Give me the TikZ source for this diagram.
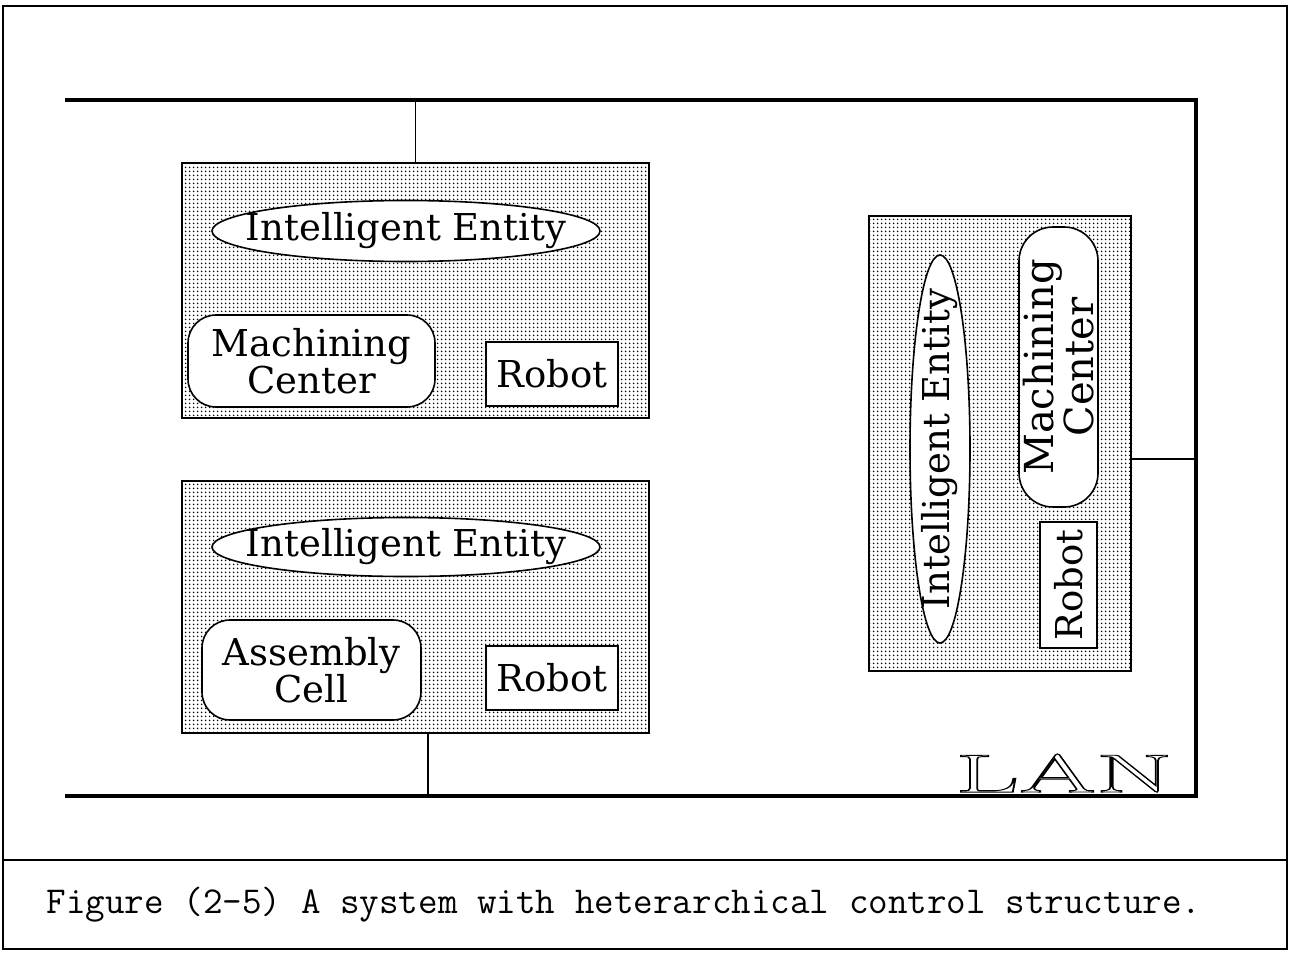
\documentclass[tikz,border=0pt]{standalone}
\usepackage{fontspec}
\usepackage{tikz}
\usetikzlibrary{shapes,patterns.meta}
\newfontfamily\labelserif{DejaVu Serif}
\tikzdeclarepattern{name=celldots,type=uncolored,
  bounding box={(0pt,0pt) and (4pt,4pt)},tile size={(4pt,4pt)},
  code={\fill (2pt,2pt) circle (1pt);}}
\newcommand{\labelfont}{\labelserif\fontsize{37}{33}\selectfont}
\newcommand{\hollow}[1]{\special{pdf:literal direct 1 Tr 0.9 w}#1\special{pdf:literal direct 0 Tr}}
\tikzstyle{cell}=[rectangle,draw,line width=1.6pt,pattern=celldots,inner sep=0pt]
\tikzstyle{entity}=[ellipse,draw,line width=1.6pt,fill=white,inner sep=0pt]
\tikzstyle{machine}=[rectangle,rounded corners=28pt,draw,line width=1.6pt,fill=white,align=center,inner sep=0pt,font=\labelfont]
\tikzstyle{robot}=[rectangle,draw,line width=1.6pt,fill=white,inner sep=0pt,font=\labelfont]
\tikzstyle{bus} = [draw,line width=4.5pt,line join=miter]
\tikzstyle{link} = [draw,line width=1.3pt,-]

\begin{document}
\begin{tikzpicture}[x=1pt,y=-1pt]
      \tikzset{every label/.style={font=\labelfont,inner sep=0pt}}
      \useasboundingbox (0,0) rectangle (1289,953);
      \draw[line width=1.5pt] (3,6) rectangle (1287,949);
      \draw[line width=1.5pt] (3,860) -- (1287,860);
      % LAN
      \coordinate (tl) at (65,100);
      \coordinate (tr) at (1196,100);
      \coordinate (br) at (1196,796);
      \coordinate (bl) at (65,796);
      \draw[bus] (tl) -- (tr) -- (br) -- (bl);
      \node[xscale=2.05,font=\fontsize{54}{54}\selectfont] (lan) at (1064,773) {\hollow{LAN}};
      % cells
      \node[cell,minimum width=467pt,minimum height=255pt] (cell1) at (415.5,290.5) {};
      \node[cell,minimum width=467pt,minimum height=252pt] (cell2) at (415.5,607) {};
      \node[cell,minimum width=262pt,minimum height=455pt] (cell3) at (1000,443.5) {};
      \node[entity,minimum width=388pt,minimum height=61pt,label=center:Intelligent Entity] (ie1) at (406,231) {};
      \node[entity,minimum width=388pt,minimum height=59pt,label=center:Intelligent Entity] (ie2) at (406,547) {};
      \node[entity,rotate=90,minimum width=388pt,minimum height=60pt,label={[rotate=90]center:Intelligent Entity}] (ie3) at (940,449) {};
      \node[machine,minimum width=247pt,minimum height=92pt] (mc1) at (311.5,361) {Machining\\Center};
      \node[machine,minimum width=219pt,minimum height=100pt] (ac2) at (311.5,670) {Assembly\\Cell};
      \node[machine,rotate=90,rounded corners=34pt,minimum width=280pt,minimum height=79pt,font=\labelserif\fontsize{40}{32}\selectfont] (mc3) at (1058.5,367) {Machining\\Center};
      \node[robot,minimum width=132pt,minimum height=64pt] (rb1) at (552,374) {Robot};
      \node[robot,minimum width=132pt,minimum height=64pt] (rb2) at (552,678) {Robot};
      \node[robot,rotate=90,minimum width=126pt,minimum height=57pt] (rb3) at (1068.5,585) {Robot};
      % taps
      \draw[link] (cell1.north) -- (cell1.north |- tl);
      \draw[link] ([xshift=12.5pt]cell2.south) -- ([xshift=12.5pt]cell2.south |- bl);
      \draw[link] ([yshift=-15.5pt]cell3.east) -- ([yshift=-15.5pt]cell3.east -| br);
      \node[font=\ttfamily\fontsize{38}{42}\selectfont] (caption) at (624,905) {Figure (2\textendash5) A system with heterarchical control structure.};
\end{tikzpicture}
\end{document}
